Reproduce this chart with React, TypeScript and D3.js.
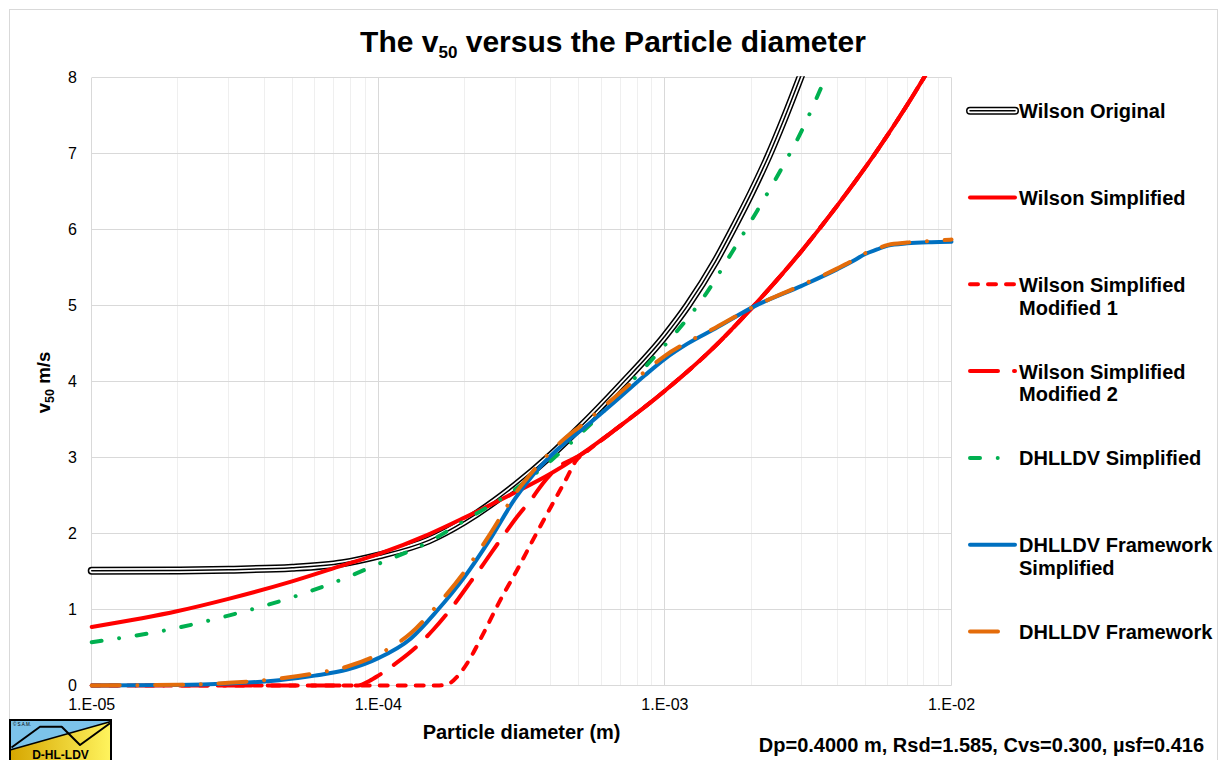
import React from "react";
import * as d3 from "d3";

// ---------- data ----------
const xMajorTicks = [1e-5, 1e-4, 1e-3, 1e-2];
const xTickLabels = ["1.E-05", "1.E-04", "1.E-03", "1.E-02"];
const yTicks = [0, 1, 2, 3, 4, 5, 6, 7, 8];

const seriesNames = [
  "Wilson Original",
  "Wilson Simplified",
  "Wilson Simplified Modified 1",
  "Wilson Simplified Modified 2",
  "DHLLDV Simplified",
  "DHLLDV Framework Simplified",
  "DHLLDV Framework",
];
const legendLines = [
  ["Wilson Original"],
  ["Wilson Simplified"],
  ["Wilson Simplified", "Modified 1"],
  ["Wilson Simplified", "Modified 2"],
  ["DHLLDV Simplified"],
  ["DHLLDV Framework", "Simplified"],
  ["DHLLDV Framework"],
];

const wilsonOriginal: [number, number][] = [
  [1e-5, 1.51], [2e-5, 1.515], [3e-5, 1.525], [5e-5, 1.55], [7.5e-5, 1.61],
  [1e-4, 1.71], [1.5e-4, 1.91], [2e-4, 2.16], [3e-4, 2.63], [4e-4, 3.03],
  [5e-4, 3.38], [7e-4, 3.95], [1e-3, 4.6], [1.2e-3, 5.0], [1.5e-3, 5.58],
  [1.75e-3, 6.05], [2e-3, 6.48], [2.3e-3, 6.97], [2.6e-3, 7.45], [3e-3, 8.05],
];
const wilsonSimplified: [number, number][] = [
  [1e-5, 0.77], [2e-5, 0.98], [3e-5, 1.14], [5e-5, 1.37], [7.5e-5, 1.58],
  [1e-4, 1.73], [1.5e-4, 1.99], [2e-4, 2.21], [3e-4, 2.54], [4e-4, 2.79],
  [5e-4, 3.02], [7e-4, 3.42], [1e-3, 3.88], [1.5e-3, 4.47], [2e-3, 4.96],
  [3e-3, 5.72], [4e-3, 6.32], [5.5e-3, 7.04], [7e-3, 7.64], [8.5e-3, 8.16],
];
const wilsonModified1: [number, number][] = [
  [1e-5, 0], [5e-5, 0], [1e-4, 0], [1.6e-4, 0], [1.75e-4, 0.02], [1.9e-4, 0.13],
  [2.04e-4, 0.29], [2.33e-4, 0.69], [2.67e-4, 1.13], [3.05e-4, 1.52],
  [3.48e-4, 1.93], [4e-4, 2.35], [4.5e-4, 2.7], [4.9e-4, 2.96], [5.3e-4, 3.07],
  [7e-4, 3.42], [1e-3, 3.88], [1.5e-3, 4.47], [2e-3, 4.96], [3e-3, 5.72],
  [4e-3, 6.32], [5.5e-3, 7.04], [7e-3, 7.64], [8.5e-3, 8.16],
];
const wilsonModified2: [number, number][] = [
  [1e-5, 0], [5e-5, 0], [8.5e-5, 0], [9.3e-5, 0.06], [1e-4, 0.13], [1.16e-4, 0.3],
  [1.35e-4, 0.5], [1.56e-4, 0.74], [1.8e-4, 1.02], [2.04e-4, 1.3],
  [2.35e-4, 1.62], [2.67e-4, 1.92], [3.05e-4, 2.22], [3.48e-4, 2.49],
  [3.75e-4, 2.66], [4.2e-4, 2.86], [5e-4, 3.02], [7e-4, 3.42], [1e-3, 3.88],
  [1.5e-3, 4.47], [2e-3, 4.96], [3e-3, 5.72], [4e-3, 6.32], [5.5e-3, 7.04],
  [7e-3, 7.64], [8.5e-3, 8.16],
];
const dhlldvSimplified: [number, number][] = [
  [1e-5, 0.57], [2e-5, 0.76], [3e-5, 0.92], [5e-5, 1.16], [7.5e-5, 1.4],
  [1e-4, 1.6], [1.5e-4, 1.89], [2e-4, 2.17], [3e-4, 2.58], [4e-4, 2.96],
  [6e-4, 3.58], [8e-4, 4.08], [1e-3, 4.48], [1.4e-3, 5.17], [1.7e-3, 5.68],
  [2.1e-3, 6.25], [2.55e-3, 6.8], [3e-3, 7.3], [3.5e-3, 7.86],
];
const frameworkSimplified: [number, number][] = [
  [1e-5, 0], [2e-5, 0.005], [3e-5, 0.025], [4.5e-5, 0.07], [6e-5, 0.13],
  [7.8e-5, 0.21], [1e-4, 0.36], [1.3e-4, 0.62], [1.6e-4, 0.98], [2e-4, 1.43],
  [2.45e-4, 1.92], [3e-4, 2.46], [3.5e-4, 2.79], [4.5e-4, 3.2], [5.1e-4, 3.36],
  [7e-4, 3.8], [8.5e-4, 4.08], [1e-3, 4.3], [1.2e-3, 4.5], [1.5e-3, 4.7],
  [2.05e-3, 4.99], [3e-3, 5.26], [4e-3, 5.48], [4.6e-3, 5.6], [5e-3, 5.68],
  [5.5e-3, 5.74], [6e-3, 5.79], [7e-3, 5.82], [8.5e-3, 5.835], [1e-2, 5.84],
];
const framework: [number, number][] = [
  [1e-5, 0], [2e-5, 0.01], [3e-5, 0.035], [4.5e-5, 0.09], [6e-5, 0.16],
  [7.8e-5, 0.25], [1e-4, 0.41], [1.3e-4, 0.69], [1.6e-4, 1.05], [2e-4, 1.5],
  [2.45e-4, 1.99], [3e-4, 2.52], [3.5e-4, 2.84], [4.5e-4, 3.26], [5.1e-4, 3.42],
  [7e-4, 3.86], [8.5e-4, 4.13], [1e-3, 4.34], [1.2e-3, 4.52], [1.5e-3, 4.71],
  [2.05e-3, 4.99], [3e-3, 5.27], [4e-3, 5.49], [4.6e-3, 5.61], [5e-3, 5.69],
  [5.5e-3, 5.75], [6e-3, 5.8], [7e-3, 5.83], [8.5e-3, 5.85], [1e-2, 5.87],
];

const seriesData = [
  wilsonOriginal, wilsonSimplified, wilsonModified1, wilsonModified2,
  dhlldvSimplified, frameworkSimplified, framework,
];

const paramNote = "Dp=0.4000 m, Rsd=1.585, Cvs=0.300, µsf=0.416";

// ---------- styles ----------
const FONT = "'Liberation Sans', Arial, Helvetica, sans-serif";
type Style = { color: string; width: number; dash?: string; compound?: boolean };
const styles: Style[] = [
  { color: "#000000", width: 8, compound: true },
  { color: "#FF0000", width: 4 },
  { color: "#FF0000", width: 4, dash: "8 10" },
  { color: "#FF0000", width: 4, dash: "28 16" },
  { color: "#00B050", width: 4, dash: "10 17.7 0.01 17.7" },
  { color: "#0070C0", width: 4 },
  { color: "#E46C0A", width: 4, dash: "28 17.7 0.01 17.7" },
];

const W = 1219;
const H = 760;
const plot = { left: 91.7, right: 951.5, top: 77.7, bottom: 685.5 };

export default function App() {
  const x = d3.scaleLog().domain([1e-5, 1e-2]).range([plot.left, plot.right]);
  const y = d3.scaleLinear().domain([0, 8]).range([plot.bottom, plot.top]);
  const line = d3
    .line<[number, number]>()
    .x((d) => x(d[0]))
    .y((d) => y(d[1]))
    .curve(d3.curveMonotoneX);

  const minorTicks: number[] = [];
  for (let e = -5; e < -2; e++) {
    for (let m = 2; m <= 9; m++) minorTicks.push(m * Math.pow(10, e));
  }
  const crisp = (v: number) => Math.round(v - 0.5) + 0.5;

  const legendX0 = 970;
  const legendX1 = 1015;
  const legendTop = 110.7;
  const legendStep = 86.8;

  const renderPath = (d: string, s: Style, key: string) => {
    if (s.compound) {
      return (
        <g key={key}>
          <path d={d} fill="none" stroke="#000" strokeWidth={8} strokeLinecap="round" />
          <path d={d} fill="none" stroke="#fff" strokeWidth={5} strokeLinecap="round" />
          <path d={d} fill="none" stroke="#000" strokeWidth={1.5} strokeLinecap="round" />
        </g>
      );
    }
    return (
      <path
        key={key}
        d={d}
        fill="none"
        stroke={s.color}
        strokeWidth={s.width}
        strokeDasharray={s.dash}
        strokeLinecap="round"
        strokeLinejoin="round"
      />
    );
  };

  return (
    <svg
      width={W}
      height={H}
      style={{ position: "absolute", left: 0, top: 0, background: "#fff" }}
      fontFamily={FONT}
    >
      <defs>
        <clipPath id="plotClip">
          <rect x={0} y={plot.top - 1.5} width={W} height={H} />
        </clipPath>
        <linearGradient id="logoYellow" x1="0" x2="1" y1="0" y2="0">
          <stop offset="0" stopColor="#d6a600" />
          <stop offset="1" stopColor="#fff45e" />
        </linearGradient>
      </defs>
      <rect x={0} y={0} width={W} height={H} fill="#fff" />
      {/* chart border */}
      <rect x={9.5} y={9.5} width={1208} height={780} fill="none" stroke="#d9d9d9" strokeWidth={1} />

      {/* title */}
      <text x={613} y={51.7} textAnchor="middle" fontSize={30} fontWeight="bold" fill="#000">
        The v<tspan fontSize={17} dy={6.6}>50</tspan>
        <tspan dy={-6.6}> versus the Particle diameter</tspan>
      </text>

      {/* grid */}
      {minorTicks.map((t) => (
        <line key={"mn" + t} x1={crisp(x(t))} x2={crisp(x(t))} y1={plot.top} y2={plot.bottom} stroke="#efefef" strokeWidth={1} />
      ))}
      {yTicks.map((t) => (
        <line key={"hy" + t} x1={plot.left} x2={plot.right} y1={crisp(y(t))} y2={crisp(y(t))} stroke="#d9d9d9" strokeWidth={1} />
      ))}
      {xMajorTicks.map((t) => (
        <line key={"mj" + t} x1={crisp(x(t))} x2={crisp(x(t))} y1={plot.top} y2={plot.bottom} stroke="#d9d9d9" strokeWidth={1} />
      ))}

      {/* tick labels */}
      {yTicks.map((t) => (
        <text key={"yl" + t} x={77} y={y(t)} dy="0.36em" textAnchor="end" fontSize={16} fill="#000">
          {t}
        </text>
      ))}
      {xMajorTicks.map((t, i) => (
        <text key={"xl" + t} x={x(t)} y={710} textAnchor="middle" fontSize={16} fill="#000">
          {xTickLabels[i]}
        </text>
      ))}

      {/* axis titles */}
      <text x={(plot.left + plot.right) / 2} y={739} textAnchor="middle" fontSize={20} fontWeight="bold" fill="#000">
        Particle diameter (m)
      </text>
      <text transform="translate(50,382.5) rotate(-90)" textAnchor="middle" fontSize={18.7} fontWeight="bold" fill="#000">
        v<tspan fontSize={12.5} dy={3.5}>50</tspan>
        <tspan dy={-3.5}> m/s</tspan>
      </text>

      {/* series */}
      <g clipPath="url(#plotClip)">
        {seriesData.map((data, i) => renderPath(line(data) || "", styles[i], "s" + i))}
      </g>

      {/* legend */}
      {legendLines.map((lines, i) => {
        const ly = legendTop + i * legendStep;
        const d = `M${legendX0},${ly}L${legendX1},${ly}`;
        return (
          <g key={"lg" + i} aria-label={seriesNames[i]}>
            {renderPath(d, styles[i], "lp" + i)}
            <text x={1019} y={ly + 7.4} fontSize={20} fontWeight="bold" fill="#000">
              {lines.map((t, j) => (
                <tspan key={j} x={1019} dy={j === 0 ? 0 : 22.8}>
                  {t}
                </tspan>
              ))}
            </text>
          </g>
        );
      })}

      {/* parameter note */}
      <text x={1204} y={752} textAnchor="end" fontSize={20} fontWeight="bold" fill="#000">
        {paramNote}
      </text>

      {/* logo */}
      <g>
        <rect x={10} y={720} width={101} height={45} fill="url(#logoYellow)" />
        <polygon points="10,720 111,720 111,721.5 10,750" fill="#7cc3ea" />
        <line x1={10} y1={750} x2={111} y2={721.5} stroke="#000" strokeWidth={1.5} />
        <polyline
          points="11.5,747.5 40,726.7 61.7,726.7 80,745 110,723.3"
          fill="none"
          stroke="#000"
          strokeWidth={2}
          strokeLinejoin="round"
        />
        <rect x={10} y={720} width={101} height={45} fill="none" stroke="#000" strokeWidth={2} />
        <text x={13} y={725.5} fontSize={4.5} fill="#000">© S.A.M.</text>
        <text x={60.5} y={758.5} textAnchor="middle" fontSize={12} fontWeight="bold" fill="#000">
          D-HL-LDV
        </text>
      </g>
    </svg>
  );
}
